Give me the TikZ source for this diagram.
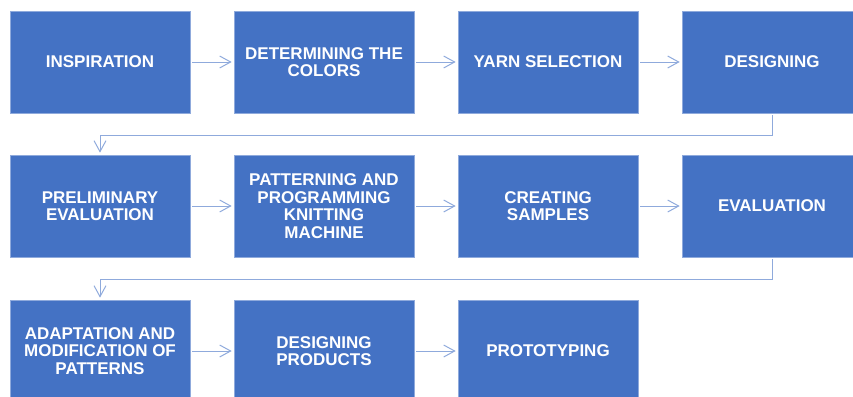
\documentclass[tikz,border=0pt]{standalone}
\usepackage{fontspec}
\setmainfont{Liberation Sans}
\usetikzlibrary{arrows.meta}
\definecolor{boxblue}{HTML}{4472C4}
\definecolor{boxedge}{HTML}{8FAADC}
\definecolor{flowline}{HTML}{8FAADC}
\begin{document}
\begin{tikzpicture}[x=1pt,y=-1pt,
  stepbox/.style={draw=boxedge, line width=0.6pt, fill=boxblue,
    minimum width=180pt, minimum height=102pt, inner sep=2pt,
    align=center, text=white,
    font=\fontsize{17}{17.5}\selectfont\bfseries},
  flow/.style={draw=flowline, line width=1pt,
    -{Straight Barb[length=11pt,width=12pt,line width=1pt]},
    shorten <=2pt, shorten >=2pt}]
\useasboundingbox (0,0) rectangle (853,396);

% row 1
\node[stepbox] (s1) at (100,62) {INSPIRATION};
\node[stepbox] (s2) at (324,62) {DETERMINING THE\\COLORS};
\node[stepbox] (s3) at (548,62) {YARN SELECTION};
\node[stepbox] (s4) at (772,62) {DESIGNING};
% row 2
\node[stepbox] (s5) at (100,206) {PRELIMINARY\\EVALUATION};
\node[stepbox] (s6) at (324,206) {PATTERNING AND\\PROGRAMMING\\KNITTING\\MACHINE};
\node[stepbox] (s7) at (548,206) {CREATING\\SAMPLES};
\node[stepbox] (s8) at (772,206) {EVALUATION};
% row 3
\node[stepbox] (s9) at (100,351) {ADAPTATION AND\\MODIFICATION OF\\PATTERNS};
\node[stepbox] (s10) at (324,351) {DESIGNING\\PRODUCTS};
\node[stepbox] (s11) at (548,351) {PROTOTYPING};

% arrows within rows
\draw[flow] (s1) -- (s2);
\draw[flow] (s2) -- (s3);
\draw[flow] (s3) -- (s4);
\draw[flow] (s5) -- (s6);
\draw[flow] (s6) -- (s7);
\draw[flow] (s7) -- (s8);
\draw[flow] (s9) -- (s10);
\draw[flow] (s10) -- (s11);

% wrap-around connectors between rows
\draw[flow] (s4.south) -- ++(0,22) -| (s5.north);
\draw[flow] (s8.south) -- ++(0,22) -| (s9.north);
\end{tikzpicture}
\end{document}
